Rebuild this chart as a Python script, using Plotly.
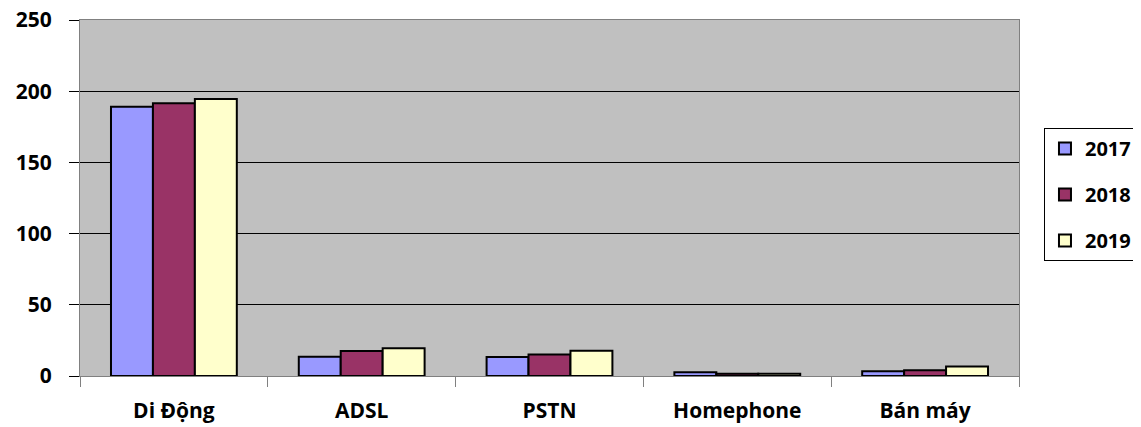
import plotly.graph_objects as go

categories = ["Di Động", "ADSL", "PSTN", "Homephone", "Bán máy"]
years = ["2017", "2018", "2019"]
v2017 = [189, 13.6, 13.3, 2.6, 3.3]
v2018 = [191.5, 17.6, 15.1, 1.5, 4.0]
v2019 = [194.5, 19.4, 17.8, 1.5, 6.6]
colors = ["#9999FF", "#993366", "#FFFFCC"]

fig = go.Figure()
for i, (name, vals) in enumerate(zip(years, [v2017, v2018, v2019])):
    fig.add_trace(go.Bar(
        x=categories, y=vals, name=name,
        marker=dict(color=colors[i], line=dict(color="black", width=2)),
        legendgroup=name,
    ))

FAM = "Open Sans, Arial, sans-serif"
fig.update_layout(
    width=1133, height=419,
    margin=dict(l=72, r=122, t=12, b=51, autoexpand=False),
    paper_bgcolor="white", plot_bgcolor="#C0C0C0",
    barmode="group", bargap=0.33, bargroupgap=0,
    font=dict(family=FAM, size=21, color="black"),
    showlegend=True,
    legend=dict(x=1.0266, y=0.6966, xanchor="left", yanchor="top",
                bordercolor="black", borderwidth=1, bgcolor="white",
                font=dict(family=FAM, size=20, color="black", weight="bold"),
                traceorder="grouped", tracegroupgap=17, itemwidth=30),
    xaxis=dict(showgrid=False, showline=True, linecolor="#808080", linewidth=1, mirror=True,
               ticks="outside", tickson="boundaries", ticklen=10, tickcolor="#808080",
               tickfont=dict(family=FAM, size=21, color="black", weight="bold"),
               ticklabelstandoff=16, automargin=False, ticklabeloverflow="allow"),
    yaxis=dict(range=[0, 250], dtick=50, showgrid=True, gridcolor="#000000", gridwidth=1,
               showline=True, linecolor="#808080", linewidth=1, mirror=True,
               ticks="outside", ticklen=10, tickcolor="#000000",
               tickfont=dict(family=FAM, size=21, color="black", weight="bold"),
               ticklabelstandoff=13, zeroline=False, automargin=False,
               ticklabeloverflow="allow"),
)
fig.write_html("out.html")
